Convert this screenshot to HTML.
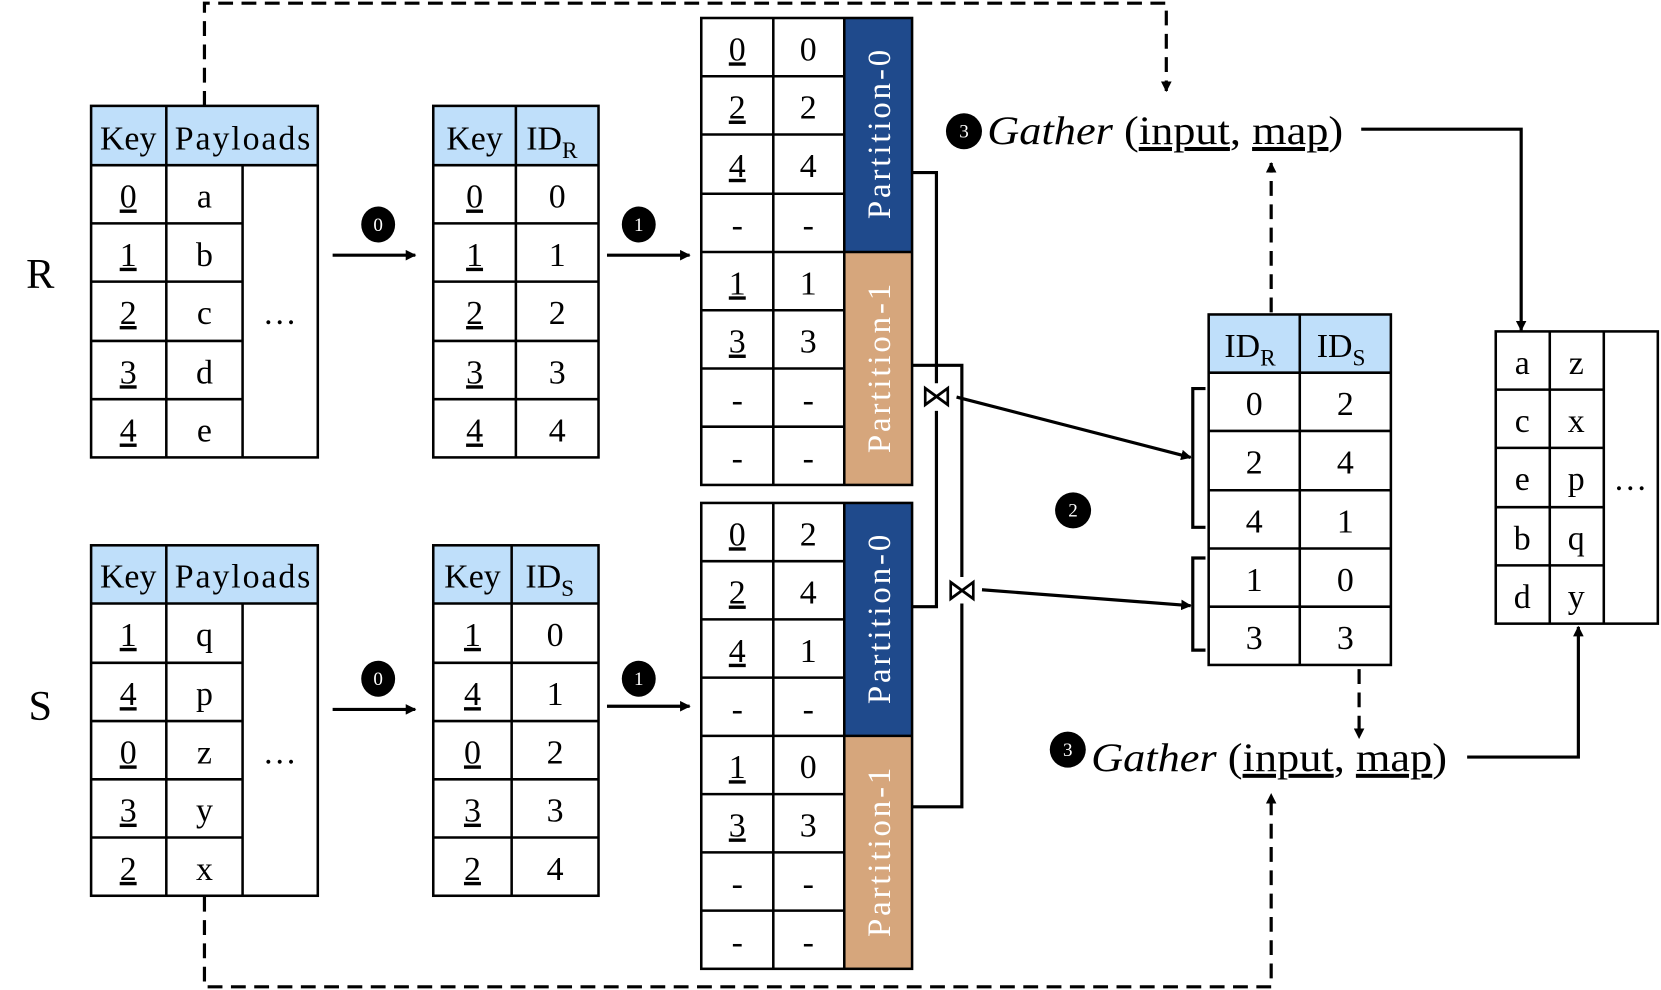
<!DOCTYPE html>
<html><head><meta charset="utf-8"><style>
html,body{margin:0;padding:0;background:#fff;}
svg{display:block;}
text{font-family:"Liberation Serif",serif;fill:#000;}
.c{font-size:32px;text-anchor:middle;}
.u{text-decoration:underline;}
.p{font-size:31px;fill:#fff;text-anchor:middle;}
.b{font-size:18px;fill:#fff;text-anchor:middle;}
</style></head><body>
<svg width="1661" height="990" viewBox="0 0 1568 935" preserveAspectRatio="none" xmlns="http://www.w3.org/2000/svg">
<defs>
<marker id="ah" markerWidth="10" markerHeight="10" refX="9" refY="5" orient="auto" markerUnits="userSpaceOnUse"><path d="M0,0 L10,5 L0,10 z" fill="#000"/></marker>
</defs>
<g stroke="#000" stroke-width="3" fill="none">
<path d="M193,100 V3 H1101 V86" stroke-dasharray="14,8" marker-end="url(#ah)"/>
<path d="M193,847 V932 H1200 V750" stroke-dasharray="14,8" marker-end="url(#ah)"/>
<path d="M1200,295 V154" stroke-dasharray="14,8" marker-end="url(#ah)"/>
<path d="M1283,632 V697" stroke-dasharray="14,8" marker-end="url(#ah)"/>
<path d="M314,241 H392" marker-end="url(#ah)"/>
<path d="M573,241 H651" marker-end="url(#ah)"/>
<path d="M314,670 H392" marker-end="url(#ah)"/>
<path d="M573,667 H651" marker-end="url(#ah)"/>
<path d="M1285,122 H1436 V312" marker-end="url(#ah)"/>
<path d="M1385,715 H1490 V592" marker-end="url(#ah)"/>
<path d="M903,375 L1124,432" marker-end="url(#ah)"/>
<path d="M927,557 L1124,572" marker-end="url(#ah)"/>
<path d="M861,163 H884 V362 M884,388 V573 H861"/>
<path d="M861,345 H908 V545 M908,570 V762 H861"/>
<path d="M1138,367 H1126 V498 H1138"/>
<path d="M1138,527 H1126 V614 H1138"/>
</g>
<text x="884" y="384" style="font-size:30px;text-anchor:middle">⋈</text>
<text x="908" y="567" style="font-size:30px;text-anchor:middle">⋈</text>

<rect x="86" y="100" width="214" height="56" fill="#bfdffa"/>
<g stroke="#000" stroke-width="2.4" fill="none">
<rect x="86" y="100" width="214" height="332"/>
<path d="M86,156 H300 M157,100 V432 M229,156 V432 M86,211 H229 M86,266 H229 M86,322 H229 M86,377 H229"/>
</g>
<text x="38" y="272" style="font-size:40px;text-anchor:middle">R</text>
<text class="c" x="121" y="141">Key</text><text class="c" x="229" y="141" textLength="128">Payloads</text>
<text class="c u" x="121" y="196">0</text><text class="c" x="193" y="196">a</text>
<text class="c u" x="121" y="251">1</text><text class="c" x="193" y="251">b</text>
<text class="c u" x="121" y="306">2</text><text class="c" x="193" y="306">c</text>
<text class="c u" x="121" y="362">3</text><text class="c" x="193" y="362">d</text>
<text class="c u" x="121" y="417">4</text><text class="c" x="193" y="417">e</text>
<text class="c" x="264" y="306">…</text>

<rect x="86" y="515" width="214" height="55" fill="#bfdffa"/>
<g stroke="#000" stroke-width="2.4" fill="none">
<rect x="86" y="515" width="214" height="331"/>
<path d="M86,570 H300 M157,515 V846 M229,570 V846 M86,626 H229 M86,681 H229 M86,736 H229 M86,791 H229"/>
</g>
<text x="38" y="680" style="font-size:40px;text-anchor:middle">S</text>
<text class="c" x="121" y="555">Key</text><text class="c" x="229" y="555" textLength="128">Payloads</text>
<text class="c u" x="121" y="610">1</text><text class="c" x="193" y="610">q</text>
<text class="c u" x="121" y="666">4</text><text class="c" x="193" y="666">p</text>
<text class="c u" x="121" y="721">0</text><text class="c" x="193" y="721">z</text>
<text class="c u" x="121" y="776">3</text><text class="c" x="193" y="776">y</text>
<text class="c u" x="121" y="831">2</text><text class="c" x="193" y="831">x</text>
<text class="c" x="264" y="721">…</text>

<rect x="409" y="100" width="156" height="56" fill="#bfdffa"/>
<g stroke="#000" stroke-width="2.4" fill="none">
<rect x="409" y="100" width="156" height="332"/>
<path d="M409,156 H565 M409,211 H565 M409,266 H565 M409,322 H565 M409,377 H565 M487,100 V432"/>
</g>
<text class="c" x="448" y="141">Key</text><text class="c" x="521" y="141">ID<tspan style="font-size:22px" dy="8">R</tspan></text>
<text class="c u" x="448" y="196">0</text><text class="c" x="526" y="196">0</text>
<text class="c u" x="448" y="251">1</text><text class="c" x="526" y="251">1</text>
<text class="c u" x="448" y="306">2</text><text class="c" x="526" y="306">2</text>
<text class="c u" x="448" y="362">3</text><text class="c" x="526" y="362">3</text>
<text class="c u" x="448" y="417">4</text><text class="c" x="526" y="417">4</text>

<rect x="409" y="515" width="156" height="55" fill="#bfdffa"/>
<g stroke="#000" stroke-width="2.4" fill="none">
<rect x="409" y="515" width="156" height="331"/>
<path d="M409,570 H565 M409,626 H565 M409,681 H565 M409,736 H565 M409,791 H565 M483,515 V846"/>
</g>
<text class="c" x="446" y="555">Key</text><text class="c" x="519" y="555">ID<tspan style="font-size:22px" dy="8">S</tspan></text>
<text class="c u" x="446" y="610">1</text><text class="c" x="524" y="610">0</text>
<text class="c u" x="446" y="666">4</text><text class="c" x="524" y="666">1</text>
<text class="c u" x="446" y="721">0</text><text class="c" x="524" y="721">2</text>
<text class="c u" x="446" y="776">3</text><text class="c" x="524" y="776">3</text>
<text class="c u" x="446" y="831">2</text><text class="c" x="524" y="831">4</text>

<rect x="797" y="17" width="64" height="221" fill="#1f4a8c"/>
<rect x="797" y="238" width="64" height="220" fill="#d6a67c"/>
<g stroke="#000" stroke-width="2.4" fill="none">
<rect x="662" y="17" width="199" height="441"/>
<path d="M730,17 V458 M797,17 V458 M662,72 H797 M662,127 H797 M662,183 H797 M662,238 H861 M662,293 H797 M662,348 H797 M662,403 H797"/>
</g>
<text class="p" transform="translate(840,127) rotate(-90)" textLength="160">Partition-0</text>
<text class="p" transform="translate(840,348) rotate(-90)" textLength="160">Partition-1</text>
<text class="c u" x="696" y="57">0</text><text class="c" x="763" y="57">0</text>
<text class="c u" x="696" y="112">2</text><text class="c" x="763" y="112">2</text>
<text class="c u" x="696" y="167">4</text><text class="c" x="763" y="167">4</text>
<text class="c" x="696" y="223">-</text><text class="c" x="763" y="223">-</text>
<text class="c u" x="696" y="278">1</text><text class="c" x="763" y="278">1</text>
<text class="c u" x="696" y="333">3</text><text class="c" x="763" y="333">3</text>
<text class="c" x="696" y="388">-</text><text class="c" x="763" y="388">-</text>
<text class="c" x="696" y="443">-</text><text class="c" x="763" y="443">-</text>

<rect x="797" y="475" width="64" height="220" fill="#1f4a8c"/>
<rect x="797" y="695" width="64" height="220" fill="#d6a67c"/>
<g stroke="#000" stroke-width="2.4" fill="none">
<rect x="662" y="475" width="199" height="440"/>
<path d="M730,475 V915 M797,475 V915 M662,530 H797 M662,585 H797 M662,640 H797 M662,695 H861 M662,750 H797 M662,805 H797 M662,860 H797"/>
</g>
<text class="p" transform="translate(840,585) rotate(-90)" textLength="160">Partition-0</text>
<text class="p" transform="translate(840,805) rotate(-90)" textLength="160">Partition-1</text>
<text class="c u" x="696" y="515">0</text><text class="c" x="763" y="515">2</text>
<text class="c u" x="696" y="570">2</text><text class="c" x="763" y="570">4</text>
<text class="c u" x="696" y="625">4</text><text class="c" x="763" y="625">1</text>
<text class="c" x="696" y="680">-</text><text class="c" x="763" y="680">-</text>
<text class="c u" x="696" y="735">1</text><text class="c" x="763" y="735">0</text>
<text class="c u" x="696" y="790">3</text><text class="c" x="763" y="790">3</text>
<text class="c" x="696" y="845">-</text><text class="c" x="763" y="845">-</text>
<text class="c" x="696" y="900">-</text><text class="c" x="763" y="900">-</text>

<rect x="1141" y="297" width="172" height="55" fill="#bfdffa"/>
<g stroke="#000" stroke-width="2.4" fill="none">
<rect x="1141" y="297" width="172" height="331"/>
<path d="M1141,352 H1313 M1141,407 H1313 M1141,463 H1313 M1141,518 H1313 M1141,573 H1313 M1227,297 V628"/>
</g>
<text class="c" x="1180" y="337">ID<tspan style="font-size:22px" dy="8">R</tspan></text>
<text class="c" x="1266" y="337">ID<tspan style="font-size:22px" dy="8">S</tspan></text>
<text class="c" x="1184" y="392">0</text><text class="c" x="1270" y="392">2</text>
<text class="c" x="1184" y="447">2</text><text class="c" x="1270" y="447">4</text>
<text class="c" x="1184" y="503">4</text><text class="c" x="1270" y="503">1</text>
<text class="c" x="1184" y="558">1</text><text class="c" x="1270" y="558">0</text>
<text class="c" x="1184" y="613">3</text><text class="c" x="1270" y="613">3</text>

<g stroke="#000" stroke-width="2.4" fill="none">
<rect x="1412" y="313" width="153" height="276"/>
<path d="M1463,313 V589 M1514,313 V589 M1412,368 H1514 M1412,423 H1514 M1412,479 H1514 M1412,534 H1514"/>
</g>
<text class="c" x="1437" y="353">a</text><text class="c" x="1488" y="353">z</text>
<text class="c" x="1437" y="408">c</text><text class="c" x="1488" y="408">x</text>
<text class="c" x="1437" y="463">e</text><text class="c" x="1488" y="463">p</text>
<text class="c" x="1437" y="519">b</text><text class="c" x="1488" y="519">q</text>
<text class="c" x="1437" y="574">d</text><text class="c" x="1488" y="574">y</text>
<text class="c" x="1539" y="463">…</text>

<g fill="#000">
<ellipse cx="357" cy="212" rx="16" ry="17"/><ellipse cx="603" cy="212" rx="16" ry="17"/>
<ellipse cx="357" cy="641" rx="16" ry="17"/><ellipse cx="603" cy="641" rx="16" ry="17"/>
<circle cx="1013" cy="482" r="17"/><circle cx="910" cy="124" r="17"/><circle cx="1008" cy="708" r="17"/>
</g>
<text class="b" x="357" y="218">0</text><text class="b" x="603" y="218">1</text>
<text class="b" x="357" y="647">0</text><text class="b" x="603" y="647">1</text>
<text class="b" x="1013" y="488">2</text><text class="b" x="910" y="130">3</text><text class="b" x="1008" y="714">3</text>

<text x="932" y="136" style="font-size:38px" textLength="336" lengthAdjust="spacingAndGlyphs"><tspan font-style="italic">Gather</tspan> (<tspan class="u">input</tspan>, <tspan class="u">map</tspan>)</text>
<text x="1030" y="728" style="font-size:38px" textLength="336" lengthAdjust="spacingAndGlyphs"><tspan font-style="italic">Gather</tspan> (<tspan class="u">input</tspan>, <tspan class="u">map</tspan>)</text>
</svg>
</body></html>
